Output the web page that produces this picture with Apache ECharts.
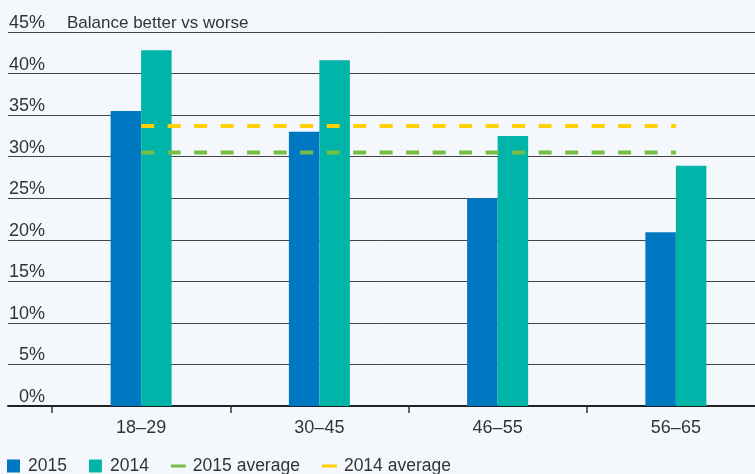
<!DOCTYPE html>
<html>
<head>
<meta charset="utf-8">
<script src="https://cdn.jsdelivr.net/npm/echarts@6/dist/echarts.min.js"></script>
<style>
html,body{margin:0;padding:0;background:#f4f8fc;}
#chart{width:755px;height:474px;}
</style>
</head>
<body>
<div id="chart"></div>
<script>
const categories = ['18–29', '30–45', '46–55', '56–65'];
const values2015 = [35.5, 33.0, 25.0, 20.9];
const values2014 = [42.8, 41.6, 32.5, 28.9];
const average2015 = [30.5, 30.5, 30.5, 30.5];
const average2014 = [33.7, 33.7, 33.7, 33.7];
const yTicks = { min: 0, max: 45, interval: 5 };
const titleText = 'Balance better vs worse';

const FONT = '"Liberation Sans", Arial, sans-serif';
const TXT = '#333333';
const C2015 = '#0077c1', C2014 = '#00b4aa', CG = '#76bd43', CY = '#ffd100';

const chart = echarts.init(document.getElementById('chart'), null, { renderer: 'canvas' });
chart.setOption({
  backgroundColor: '#f4f8fc',
  animation: false,
  title: {
    text: titleText, left: 67, top: 15, padding: 0,
    textStyle: { fontFamily: FONT, fontSize: 17, fontWeight: 'normal', color: TXT }
  },
  legend: {
    left: 7, top: 457, padding: 0, itemGap: 22,
    itemWidth: 15, itemHeight: 13,
    textStyle: { fontFamily: FONT, fontSize: 17.5, color: TXT, padding: [0, 0, 0, 2] },
    data: [
      { name: '2015', icon: 'path://M0,0H13V13H0Z' },
      { name: '2014', icon: 'path://M0,0H13V13H0Z' },
      { name: '2015 average', icon: 'path://M0,0H15V3H0Z', itemStyle: { color: CG } },
      { name: '2014 average', icon: 'path://M0,0H15V3H0Z', itemStyle: { color: CY } }
    ]
  },
  grid: [
    { left: 52, right: -10, top: 32, bottom: 68, outerBoundsMode: 'none', containLabel: false },
    { left: 8, right: 0, top: 32, bottom: 68, outerBoundsMode: 'none', containLabel: false }
  ],
  xAxis: [
    {
      gridIndex: 0, type: 'category', data: categories,
      axisLine: { show: false },
      axisTick: { show: true, length: 7, lineStyle: { color: '#333', width: 1.5 } },
      axisLabel: { margin: 13, fontFamily: FONT, fontSize: 18, color: TXT },
      splitLine: { show: false }
    },
    {
      gridIndex: 1, type: 'value', min: 0, max: 1,
      axisLine: { show: true, lineStyle: { color: '#222', width: 2 } },
      axisTick: { show: false }, axisLabel: { show: false }, splitLine: { show: false }
    }
  ],
  yAxis: [
    {
      gridIndex: 0, type: 'value', min: yTicks.min, max: yTicks.max, interval: yTicks.interval,
      show: false, splitLine: { show: false }
    },
    {
      gridIndex: 1, type: 'value', min: yTicks.min, max: yTicks.max, interval: yTicks.interval,
      axisLine: { show: false }, axisTick: { show: false },
      axisLabel: {
        inside: true, margin: 37, align: 'right', verticalAlign: 'bottom',
        fontFamily: FONT, fontSize: 18, color: TXT,
        formatter: v => v + '%'
      },
      splitLine: { show: true, lineStyle: { color: '#444', width: 1 } }
    }
  ],
  series: [
    {
      name: '2015', type: 'bar', xAxisIndex: 0, yAxisIndex: 0, data: values2015,
      barWidth: 30.5, barGap: '0%', itemStyle: { color: C2015 }
    },
    {
      name: '2014', type: 'bar', xAxisIndex: 0, yAxisIndex: 0, data: values2014,
      barWidth: 30.5, barGap: '0%', itemStyle: { color: C2014 }
    },
    {
      name: '2015 average', type: 'line', xAxisIndex: 0, yAxisIndex: 0, data: average2015,
      symbol: 'none', z: 5, itemStyle: { color: CG },
      lineStyle: { color: CG, width: 4, type: [13, 13.5] }
    },
    {
      name: '2014 average', type: 'line', xAxisIndex: 0, yAxisIndex: 0, data: average2014,
      symbol: 'none', z: 5, itemStyle: { color: CY },
      lineStyle: { color: CY, width: 4, type: [13, 13.5] }
    }
  ]
});
</script>
</body>
</html>
